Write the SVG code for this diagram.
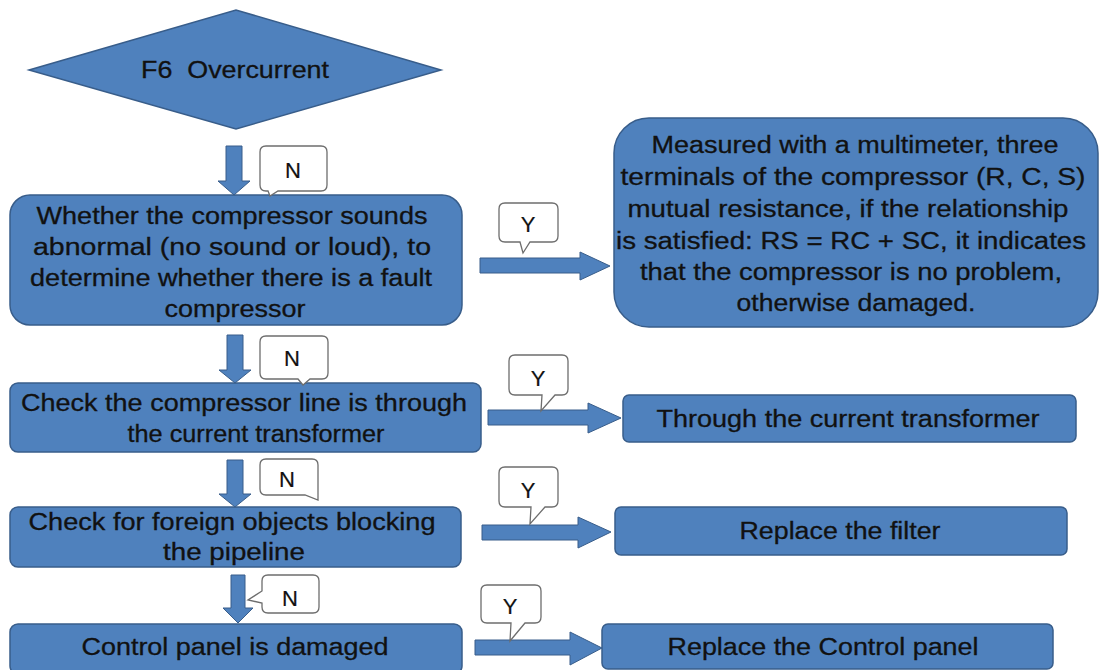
<svg xmlns="http://www.w3.org/2000/svg" width="1100" height="670" viewBox="0 0 1100 670">
<style>
.shape{fill:#4f81bd;stroke:#385d8a;stroke-width:1.5}
.arrow{fill:#4f81bd;stroke:#385d8a;stroke-width:1}
.call{fill:#ffffff;stroke:#6d6d6d;stroke-width:1.3}
.t{font-family:"Liberation Sans",Arial,sans-serif;font-size:23.5px;fill:#111;stroke:#111;stroke-width:0.3;text-anchor:middle}
.c{font-family:"Liberation Sans",Arial,sans-serif;font-size:22px;fill:#111;stroke:#111;stroke-width:0.2;text-anchor:middle}
</style>
<rect width="1100" height="670" fill="#ffffff"/>
<g id="start">
<polygon class="shape" points="29,70 236,10 441,70 236,129"/>
<text class="t" x="235" y="78" textLength="188" lengthAdjust="spacingAndGlyphs" xml:space="preserve">F6  Overcurrent</text>
</g>
<g id="check-sound">
<rect class="shape" x="10" y="195" width="452" height="130" rx="20"/>
<text class="t" x="232" y="224" textLength="391" lengthAdjust="spacingAndGlyphs">Whether the compressor sounds</text>
<text class="t" x="232" y="255" textLength="398" lengthAdjust="spacingAndGlyphs">abnormal (no sound or loud), to</text>
<text class="t" x="231" y="286" textLength="402" lengthAdjust="spacingAndGlyphs">determine whether there is a fault</text>
<text class="t" x="235" y="317" textLength="141" lengthAdjust="spacingAndGlyphs">compressor</text>
</g>
<g id="measure">
<rect class="shape" x="614" y="118" width="484" height="209" rx="35"/>
<text class="t" x="855" y="153" textLength="407" lengthAdjust="spacingAndGlyphs">Measured with a multimeter, three</text>
<text class="t" x="853" y="185" textLength="465" lengthAdjust="spacingAndGlyphs">terminals of the compressor (R, C, S)</text>
<text class="t" x="848" y="217" textLength="441" lengthAdjust="spacingAndGlyphs">mutual resistance, if the relationship</text>
<text class="t" x="851" y="249" textLength="470" lengthAdjust="spacingAndGlyphs">is satisfied: RS = RC + SC, it indicates</text>
<text class="t" x="851" y="280" textLength="422" lengthAdjust="spacingAndGlyphs">that the compressor is no problem,</text>
<text class="t" x="856" y="311" textLength="239" lengthAdjust="spacingAndGlyphs">otherwise damaged.</text>
</g>
<g id="check-line">
<rect class="shape" x="10" y="383" width="471" height="69" rx="8"/>
<text class="t" x="244" y="411" textLength="446" lengthAdjust="spacingAndGlyphs">Check the compressor line is through</text>
<text class="t" x="256" y="442" textLength="257" lengthAdjust="spacingAndGlyphs">the current transformer</text>
</g>
<g id="through-ct">
<rect class="shape" x="623" y="395" width="453" height="47" rx="6"/>
<text class="t" x="848" y="427" textLength="383" lengthAdjust="spacingAndGlyphs">Through the current transformer</text>
</g>
<g id="check-foreign">
<rect class="shape" x="10" y="507" width="451" height="60" rx="8"/>
<text class="t" x="232" y="530" textLength="407" lengthAdjust="spacingAndGlyphs">Check for foreign objects blocking</text>
<text class="t" x="234" y="560" textLength="142" lengthAdjust="spacingAndGlyphs">the pipeline</text>
</g>
<g id="replace-filter">
<rect class="shape" x="615" y="507" width="452" height="48" rx="6"/>
<text class="t" x="840" y="539" textLength="201" lengthAdjust="spacingAndGlyphs">Replace the filter</text>
</g>
<g id="control-panel">
<rect class="shape" x="10" y="624" width="452" height="50" rx="8"/>
<text class="t" x="235" y="655" textLength="307" lengthAdjust="spacingAndGlyphs">Control panel is damaged</text>
</g>
<g id="replace-panel">
<rect class="shape" x="602" y="624" width="451" height="45" rx="6"/>
<text class="t" x="823" y="655" textLength="311" lengthAdjust="spacingAndGlyphs">Replace the Control panel</text>
</g>
<g id="connectors">
<path class="arrow" d="M226,146 H242 V181 H250 L234,195 L218,181 H226 Z"/>
<path class="arrow" d="M227,335 H243 V370 H251 L235,383 L219,370 H227 Z"/>
<path class="arrow" d="M227,460 H243 V494 H251 L235,507 L219,494 H227 Z"/>
<path class="arrow" d="M231,575 H245 V608 H253 L238,623 L223,608 H231 Z"/>
<path class="arrow" d="M480,258 H580 V252 L610,266 L580,280 V273 H480 Z"/>
<path class="arrow" d="M488,410 H588 V403 L621,418 L588,433 V425 H488 Z"/>
<path class="arrow" d="M482,525 H578 V517 L611,532 L578,548 V540 H482 Z"/>
<path class="arrow" d="M475,640 H570 V632 L602,648 L570,665 V655 H475 Z"/>
<g id="label-n1">
<path class="call" d="M266,146 H321 Q327,146 327,152 V185 Q327,191 321,191 H278 L270,196 L268,191 H266 Q260,191 260,185 V152 Q260,146 266,146 Z"/>
<text class="c" x="293" y="178">N</text>
</g>
<g id="label-n2">
<path class="call" d="M266,336 H322 Q328,336 328,342 V373 Q328,379 322,379 H310 L303,385 L298,379 H266 Q260,379 260,373 V342 Q260,336 266,336 Z"/>
<text class="c" x="292" y="366">N</text>
</g>
<g id="label-n3">
<path class="call" d="M266,459 H312 Q318,459 318,465 V490 L318,500 L305,495 H266 Q260,495 260,489 V465 Q260,459 266,459 Z"/>
<text class="c" x="287" y="487">N</text>
</g>
<g id="label-n4">
<path class="call" d="M268,575 H313 Q319,575 319,581 V607 Q319,613 313,613 H268 Q262,613 262,607 V603 L248,600 L262,591 V581 Q262,575 268,575 Z"/>
<text class="c" x="290" y="606">N</text>
</g>
<g id="label-y1">
<path class="call" d="M505,203 H552 Q558,203 558,209 V236 Q558,242 552,242 H530 L523,253 L520,242 H505 Q499,242 499,236 V209 Q499,203 505,203 Z"/>
<text class="c" x="528" y="232">Y</text>
</g>
<g id="label-y2">
<path class="call" d="M515,355 H562 Q568,355 568,361 V389 Q568,395 562,395 H555 L541,411 L542,395 H515 Q509,395 509,389 V361 Q509,355 515,355 Z"/>
<text class="c" x="538" y="386">Y</text>
</g>
<g id="label-y3">
<path class="call" d="M505,467 H552 Q558,467 558,473 V501 Q558,507 552,507 H545 L530,524 L531,507 H505 Q499,507 499,501 V473 Q499,467 505,467 Z"/>
<text class="c" x="528" y="498">Y</text>
</g>
<g id="label-y4">
<path class="call" d="M487,585 H535 Q541,585 541,591 V617 Q541,623 535,623 H525 L510,641 L511,623 H487 Q481,623 481,617 V591 Q481,585 487,585 Z"/>
<text class="c" x="510" y="614">Y</text>
</g>
</g>
</svg>
